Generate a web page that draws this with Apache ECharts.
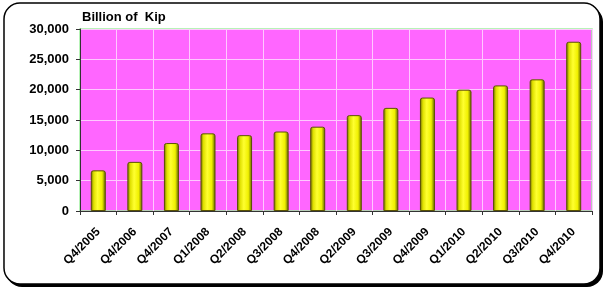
<!DOCTYPE html>
<html><head><meta charset="utf-8">
<script src="https://cdn.jsdelivr.net/npm/echarts@6/dist/echarts.min.js"></script>
<style>html,body{margin:0;padding:0;background:#fff}#c{width:608px;height:291px}</style>
</head><body><div id="c"></div>
<script>
const categories = ["Q4/2005","Q4/2006","Q4/2007","Q1/2008","Q2/2008","Q3/2008","Q4/2008","Q2/2009","Q3/2009","Q4/2009","Q1/2010","Q2/2010","Q3/2010","Q4/2010"];
const values = [6700, 8100, 11200, 12800, 12500, 13100, 13900, 15800, 17000, 18700, 20000, 20700, 21700, 27900];
const yTicks = [0, 5000, 10000, 15000, 20000, 25000, 30000];

const chart = echarts.init(document.getElementById('c'), null, {renderer:'canvas'});
const font = 'Arial, "Liberation Sans", sans-serif';
chart.setOption({
  animation:false,
  backgroundColor:'#fff',
  graphic:[
    {type:'rect', z:-10, shape:{x:6,y:6,width:597,height:281,r:16}, style:{fill:'#000'}},
    {type:'rect', z:-9, shape:{x:4,y:3,width:596,height:281,r:16}, style:{fill:'#fff',stroke:'#000',lineWidth:1.5}},
    {type:'rect', z:-5, shape:{x:80,y:29,width:512,height:182}, style:{fill:'#FF66FF',stroke:'#a0f0a0',lineWidth:1.5}},
    {type:'text', left:82, top:11, style:{text:'Billion of  Kip', font:'bold 13px '+font, fill:'#000'}}
  ],
  grid:{left:80, right:16, top:29, bottom:80, containLabel:false},
  xAxis:{type:'category', data:categories,
    axisLine:{lineStyle:{color:'#333',width:1}},
    axisTick:{show:true, lineStyle:{color:'#333'}, length:4, alignWithLabel:false},
    axisLabel:{rotate:45, fontSize:12, fontWeight:'bold', color:'#000', fontFamily:font, margin:19, interval:0},
    splitLine:{show:true, interval:0, lineStyle:{color:'#FFC8FF',width:1}}
  },
  yAxis:{type:'value', min:0, max:30000, interval:5000,
    axisLine:{show:true, lineStyle:{color:'#333'}},
    axisTick:{show:true, length:4, inside:false, lineStyle:{color:'#333'}},
    axisLabel:{fontSize:13, fontWeight:'bold', color:'#000', fontFamily:font, margin:11,
      formatter:v=> yTicks.includes(v) ? v.toLocaleString('en-US') : ''},
    splitLine:{lineStyle:{color:'#FFC8FF',width:1}}
  },
  series:[{type:'bar', data:values, barWidth:15,
    itemStyle:{
      color:new echarts.graphic.LinearGradient(0,0,1,0,[
        {offset:0,color:'#6b6b00'},{offset:0.2,color:'#e0e000'},{offset:0.45,color:'#ffff30'},
        {offset:0.75,color:'#f0f000'},{offset:1,color:'#5a5a00'}]),
      borderColor:'#5a5200', borderWidth:1, borderRadius:[2,2,0,0]
    }
  }]
});
</script></body></html>
